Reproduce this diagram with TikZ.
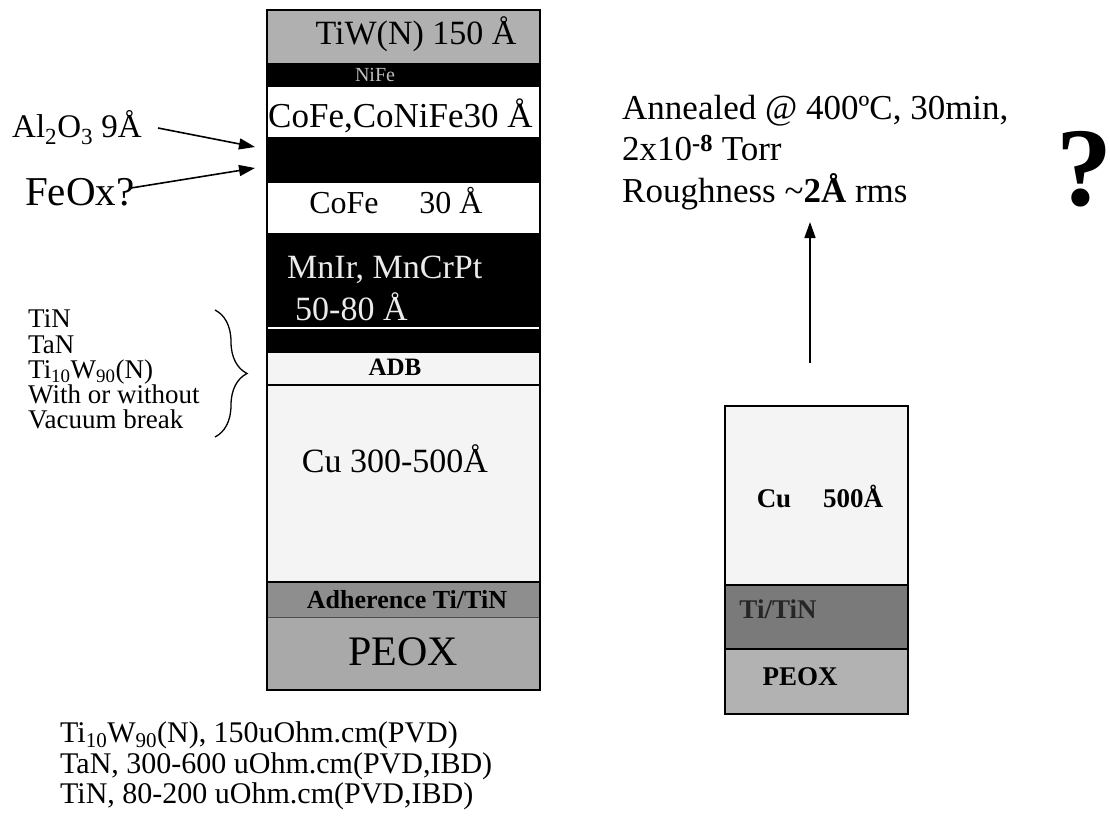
\documentclass[tikz,border=0pt]{standalone}
\usepackage{fontspec}
\setmainfont{Liberation Serif}
\usetikzlibrary{decorations.pathreplacing,arrows.meta}
\newcommand\fs[1]{\fontsize{#1pt}{#1pt}\selectfont}
\definecolor{tiwgray}{HTML}{B0B0B0}
\definecolor{adhgray}{HTML}{8E8E8E}
\definecolor{peoxgray}{HTML}{A9A9A9}
\definecolor{lightfill}{HTML}{F4F4F4}
\definecolor{rtigray}{HTML}{7A7A7A}
\definecolor{rpeoxgray}{HTML}{B2B2B2}
\begin{document}
\begin{tikzpicture}[x=1pt,y=-1pt,
  layer/.style={rectangle, draw=none, inner sep=0pt, outer sep=0pt, minimum width=273pt},
  rlayer/.style={rectangle, draw=none, inner sep=0pt, outer sep=0pt, minimum width=183pt},
  lbl/.style={inner sep=0pt, anchor=base},
  lblw/.style={inner sep=0pt, anchor=base west},
  arr/.style={line width=1.6pt, -{Triangle[length=16pt,width=11pt]}},
  edge/.style={line width=2pt},
]
\useasboundingbox (0,0) rectangle (1110,829);

% ---------------- left stack ----------------
\node[layer, fill=tiwgray, minimum height=53pt] (tiw) at (403.5,36.5) {};
\node[layer, fill=black, minimum height=24pt] (nife) at (403.5,75) {};
\node[layer, fill=white, minimum height=50pt] (cofe1) at (403.5,112) {};
\node[layer, fill=black, minimum height=46pt] (alox) at (403.5,160) {};
\node[layer, fill=white, minimum height=50pt] (cofe2) at (403.5,208) {};
\node[layer, fill=black, minimum height=95pt] (mnir) at (403.5,280.5) {};
\node[layer, fill=black, minimum height=25pt] (blk2) at (403.5,340.5) {};
\node[layer, fill=lightfill, minimum height=32pt] (adb) at (403.5,369) {};
\node[layer, fill=lightfill, minimum height=197pt] (cu) at (403.5,483.5) {};
\node[layer, fill=adhgray, minimum height=35pt] (adh) at (403.5,599.5) {};
\node[layer, fill=peoxgray, minimum height=73pt] (peox) at (403.5,653.5) {};

\draw[white, line width=1.5pt] (mnir.south west) -- (mnir.south east);
\draw[line width=1.2pt] (adb.south west) -- (adb.south east);
\draw[line width=2pt] (cu.south west) -- (cu.south east);
\draw[line width=1pt, black!70] (adh.south west) -- (adh.south east);
\draw[edge] (tiw.north west) rectangle (peox.south east);

\node[lbl, font=\fs{34}] (tiwt) at (416,45) {TiW(N) 150 Å};
\node[lbl, font=\fs{20}, text=black!25] (nifet) at (375,82) {NiFe};
\node[lblw, font=\fs{35}] (cofe1t) at (268,128) {CoFe,CoNiFe30 Å};
\node[lbl, font=\fs{32}] (cofe2a) at (344,213) {CoFe};
\node[lbl, font=\fs{32}] (cofe2b) at (451,213) {30 Å};
\node[lblw, font=\fs{34}, text=black!8] (mnirt) at (287,278) {MnIr, MnCrPt};
\node[lblw, font=\fs{34}, text=black!8] (mnirt2) at (295,320) {50-80 Å};
\node[lbl, font=\fs{25}\bfseries] (adbt) at (395,375) {ADB};
\node[lbl, font=\fs{34}] (cut) at (395,472) {Cu 300-500Å};
\node[lbl, font=\fs{26}\bfseries] (adht) at (407,608) {Adherence Ti/TiN};
\node[lbl, font=\fs{42}] (peoxt) at (403,665) {PEOX};

% ---------------- left labels ----------------
\node[lblw, font=\fs{33}] (al) at (12,138) {Al\textsubscript{2}O\textsubscript{3} 9Å};
\node[lblw, font=\fs{41}] (feox) at (25,205) {FeOx?};
\coordinate (als) at (158,128);
\coordinate (ale) at (255,147);
\coordinate (fes) at (131,188);
\coordinate (fee) at (255,168);
\draw[arr] (als) -- (ale);
\draw[arr] (fes) -- (fee);

\node[lblw, font=\fs{27}] (b1) at (28,327) {TiN};
\node[lblw, font=\fs{27}] (b2) at (28,353) {TaN};
\node[lblw, font=\fs{27}] (b3) at (28,378) {Ti\textsubscript{10}W\textsubscript{90}(N)};
\node[lblw, font=\fs{27}] (b4) at (28,403) {With or without};
\node[lblw, font=\fs{27}] (b5) at (28,428) {Vacuum break};
\coordinate (bt) at (215,310);
\coordinate (bb) at (215,437);
\draw[line width=1.3pt, decorate, decoration={brace, amplitude=32pt}] (bt) -- (bb);

% ---------------- bottom text ----------------
\node[lblw, font=\fs{30}] (r1) at (60,742) {Ti\textsubscript{10}W\textsubscript{90}(N), 150uOhm.cm(PVD)};
\node[lblw, font=\fs{30}] (r2) at (60,773) {TaN, 300-600 uOhm.cm(PVD,IBD)};
\node[lblw, font=\fs{30}] (r3) at (60,803) {TiN, 80-200 uOhm.cm(PVD,IBD)};

% ---------------- right stack ----------------
\node[rlayer, fill=lightfill, minimum height=179pt] (rcu) at (816.5,495.5) {};
\node[rlayer, fill=rtigray, minimum height=64pt] (rti) at (816.5,617) {};
\node[rlayer, fill=rpeoxgray, minimum height=65pt] (rpeox) at (816.5,681.5) {};
\draw[line width=2pt] (rcu.south west) -- (rcu.south east);
\draw[line width=2pt] (rti.south west) -- (rti.south east);
\draw[edge] (rcu.north west) rectangle (rpeox.south east);

\node[lbl, font=\fs{27}\bfseries] (rcut) at (774,507) {Cu};
\node[lbl, font=\fs{27}\bfseries] (rcut2) at (853,507) {500Å};
\node[lbl, font=\fs{27}\bfseries, text=black!85] (rtit) at (778,618) {Ti/TiN};
\node[lbl, font=\fs{27}\bfseries] (rpeoxt) at (800,685) {PEOX};

% ---------------- right text ----------------
\node[lblw, font=\fs{35}] (an1) at (622,120) {Annealed @ 400ºC, 30min,};
\node[lblw, font=\fs{35}] (an2) at (622,161) {2x10\textsuperscript{\bfseries -8} Torr};
\node[lblw, font=\fs{35}] (an3) at (622,202) {Roughness \textasciitilde\textbf{2Å} rms};
\node[lbl, font=\fs{112}\bfseries] (qm) at (1084,205) {?};

\coordinate (upb) at (810,363);
\coordinate (upt) at (810,222);
\draw[arr] (upb) -- (upt);
\end{tikzpicture}
\end{document}
